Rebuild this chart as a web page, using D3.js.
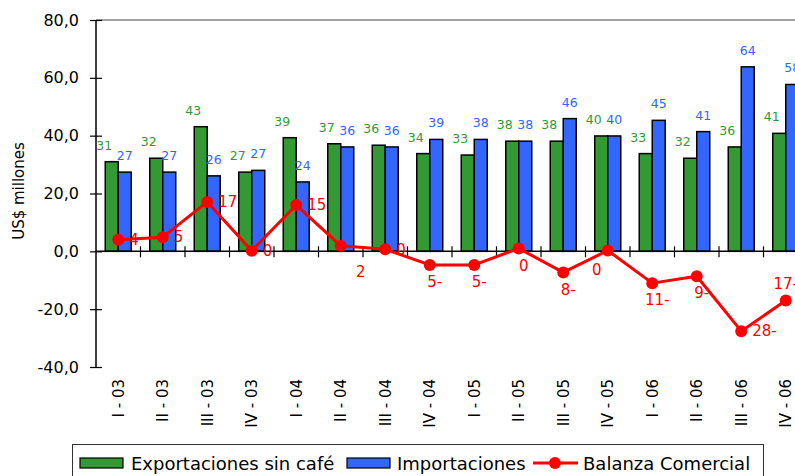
<!DOCTYPE html>
<html>
<head>
<meta charset="utf-8">
<script src="https://cdn.jsdelivr.net/npm/d3@7"></script>
<style>
  body { margin: 0; background: #fff; }
  svg { display: block; font-family: "DejaVu Sans", sans-serif; }
</style>
</head>
<body>
<svg id="chart" width="795" height="476"></svg>
<script>
// quarters
const categories = ["I - 03", "II - 03", "III - 03", "IV - 03",
                    "I - 04", "II - 04", "III - 04", "IV - 04",
                    "I - 05", "II - 05", "III - 05", "IV - 05",
                    "I - 06", "II - 06", "III - 06", "IV - 06"];

const exportaciones = [31.0, 32.2, 43.1, 27.4, 39.3, 37.2, 36.7, 33.8,
                       33.3, 38.1, 38.1, 39.9, 33.8, 32.2, 36.1, 40.8];
const importaciones = [27.4, 27.4, 26.1, 28.0, 24.0, 36.1, 36.1, 38.7,
                       38.7, 38.1, 45.9, 39.9, 45.3, 41.4, 63.8, 57.7];
const balanza = [4.0, 4.9, 17.1, 0.2, 16.0, 1.9, 0.7, -4.7,
                 -4.7, 1.0, -7.3, 0.3, -11.0, -8.6, -27.6, -17.0];

const expLabels = ["31", "32", "43", "27", "39", "37", "36", "34",
                   "33", "38", "38", "40", "33", "32", "36", "41"];
const impLabels = ["27", "27", "26", "27", "24", "36", "36", "39",
                   "38", "38", "46", "40", "45", "41", "64", "58"];
const balLabels = ["4", "5", "17", "0", "15", "2", "0", "5-",
                   "5-", "0", "8-", "0", "11-", "9-", "28-", "17-"];
// where each balance label sits relative to its point
const balPlace = ["right", "right", "right", "right", "right", "belowRight", "right", "below",
                  "below", "below", "below", "belowLeft", "below", "below", "right", "above"];

const yTicks = [-40, -20, 0, 20, 40, 60, 80];

const GREEN = "#339933", BLUE = "#3366ff", RED = "#ff0000";

const svg = d3.select("#chart");
const plotLeft = 96, plotRight = 808, plotTop = 20, plotBottom = 367;

const x = d3.scaleBand().domain(categories).range([plotLeft, plotRight]).padding(0);
const y = d3.scaleLinear().domain([-40, 80]).range([plotBottom, plotTop]);
const barW = 13;

// plot frame top line
svg.append("line")
    .attr("x1", plotLeft).attr("x2", 795)
    .attr("y1", y(80)).attr("y2", y(80))
    .attr("stroke", "#808080").attr("stroke-width", 1.5);

// y axis
const yAxis = svg.append("g")
    .attr("transform", `translate(${plotLeft},0)`)
    .call(d3.axisLeft(y).tickValues(yTicks).tickSize(6).tickPadding(11)
        .tickFormat(d => d.toFixed(1).replace(".", ",")));
yAxis.select(".domain").attr("stroke", "#000").attr("stroke-width", 1.5).attr("d", `M0,${y(80)}V${y(-40)}`);
yAxis.selectAll(".tick line").attr("x1", -6).attr("x2", 6).attr("stroke", "#000").attr("stroke-width", 1.2);
yAxis.selectAll(".tick text").attr("font-size", 16).attr("fill", "#000").attr("font-family", "DejaVu Sans");

// y title
svg.append("text")
    .attr("transform", "translate(19,191) rotate(-90)")
    .attr("text-anchor", "middle")
    .attr("dy", "0.35em")
    .attr("font-size", 15)
    .text("US$ millones");

// bars
const groups = svg.append("g").selectAll("g")
    .data(categories)
    .join("g");

groups.append("rect")
    .attr("x", d => x(d) + x.bandwidth() / 2 - barW)
    .attr("y", (d, i) => y(exportaciones[i]))
    .attr("width", barW)
    .attr("height", (d, i) => y(0) - y(exportaciones[i]))
    .attr("fill", GREEN).attr("stroke", "#000").attr("stroke-width", 1.5);

groups.append("rect")
    .attr("x", d => x(d) + x.bandwidth() / 2)
    .attr("y", (d, i) => y(importaciones[i]))
    .attr("width", barW)
    .attr("height", (d, i) => y(0) - y(importaciones[i]))
    .attr("fill", BLUE).attr("stroke", "#000").attr("stroke-width", 1.5);

groups.append("text")
    .attr("x", d => x(d) + x.bandwidth() / 2 - barW - 1)
    .attr("y", (d, i) => y(exportaciones[i]) - 12)
    .attr("text-anchor", "middle")
    .attr("font-size", 12.5)
    .attr("fill", GREEN)
    .text((d, i) => expLabels[i]);

groups.append("text")
    .attr("x", d => x(d) + x.bandwidth() / 2 + barW / 2)
    .attr("y", (d, i) => y(importaciones[i]) - 12)
    .attr("text-anchor", "middle")
    .attr("font-size", 12.5)
    .attr("fill", BLUE)
    .text((d, i) => impLabels[i]);

// x axis at zero
svg.append("line")
    .attr("x1", plotLeft).attr("x2", 795)
    .attr("y1", y(0)).attr("y2", y(0))
    .attr("stroke", "#000").attr("stroke-width", 1.5);
svg.append("g").selectAll("line")
    .data(categories.slice(1))
    .join("line")
    .attr("x1", d => x(d)).attr("x2", d => x(d))
    .attr("y1", y(0) - 5).attr("y2", y(0) + 6)
    .attr("stroke", "#000").attr("stroke-width", 1.2);

// category labels
svg.append("g").selectAll("text")
    .data(categories)
    .join("text")
    .attr("transform", d => `translate(${x(d) + x.bandwidth() / 2},${plotBottom + 12}) rotate(-90)`)
    .attr("text-anchor", "end")
    .attr("dy", "0.35em")
    .attr("font-size", 15)
    .text(d => d);

// balance line
const line = d3.line()
    .x((d, i) => x(categories[i]) + x.bandwidth() / 2)
    .y(d => y(d));

svg.append("path")
    .datum(balanza)
    .attr("fill", "none")
    .attr("stroke", RED)
    .attr("stroke-width", 3)
    .attr("stroke-linejoin", "round")
    .attr("d", line);

svg.append("g").selectAll("circle")
    .data(balanza)
    .join("circle")
    .attr("cx", (d, i) => x(categories[i]) + x.bandwidth() / 2)
    .attr("cy", d => y(d))
    .attr("r", 6)
    .attr("fill", RED);

const offsets = {
    right: [11, 0, "start"],
    belowRight: [20, 26, "middle"],
    below: [5, 17, "middle"],
    belowLeft: [-11, 19, "middle"],
    above: [0, -17, "middle"]
};

svg.append("g").selectAll("text")
    .data(balanza)
    .join("text")
    .attr("x", (d, i) => x(categories[i]) + x.bandwidth() / 2 + offsets[balPlace[i]][0])
    .attr("y", (d, i) => y(d) + offsets[balPlace[i]][1])
    .attr("dy", "0.35em")
    .attr("text-anchor", (d, i) => offsets[balPlace[i]][2])
    .attr("font-size", 15)
    .attr("fill", RED)
    .text((d, i) => balLabels[i]);

// legend
const lg = svg.append("g");
lg.append("rect")
    .attr("x", 72.5).attr("y", 444.5)
    .attr("width", 691).attr("height", 40)
    .attr("fill", "#fff").attr("stroke", "#333").attr("stroke-width", 1);

lg.append("rect").attr("x", 80).attr("y", 458).attr("width", 43).attr("height", 10)
    .attr("fill", GREEN).attr("stroke", "#000").attr("stroke-width", 1.2);
lg.append("text").attr("x", 131).attr("y", 470).attr("font-size", 18).text("Exportaciones sin café");

lg.append("rect").attr("x", 347).attr("y", 458).attr("width", 43).attr("height", 10)
    .attr("fill", BLUE).attr("stroke", "#000").attr("stroke-width", 1.2);
lg.append("text").attr("x", 397).attr("y", 470).attr("font-size", 18).text("Importaciones");

lg.append("line").attr("x1", 533).attr("x2", 578).attr("y1", 463).attr("y2", 463)
    .attr("stroke", RED).attr("stroke-width", 3);
lg.append("circle").attr("cx", 555).attr("cy", 463).attr("r", 6).attr("fill", RED);
lg.append("text").attr("x", 583).attr("y", 470).attr("font-size", 18).text("Balanza Comercial");
</script>
</body>
</html>
